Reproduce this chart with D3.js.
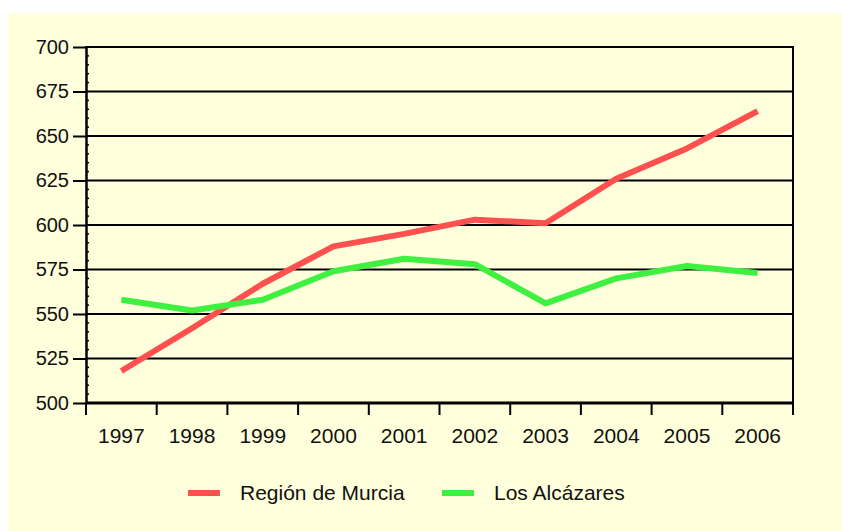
<!DOCTYPE html>
<html><head><meta charset="utf-8">
<script src="https://cdn.jsdelivr.net/npm/d3@7"></script>
<style>body{margin:0;background:#fff}svg{display:block}text{font-family:"Liberation Sans",Arial,sans-serif;fill:#111}</style>
</head><body>
<script>
const years = ["1997","1998","1999","2000","2001","2002","2003","2004","2005","2006"];
const murcia = [518, 542, 567, 588, 595, 603, 601, 626, 643, 664];
const alcazares = [558, 552, 558, 574, 581, 578, 556, 570, 577, 573];
const yTicks = [500, 525, 550, 575, 600, 625, 650, 675, 700];
const seriesNames = ["Región de Murcia", "Los Alcázares"];
const seriesColors = ["#FF5050", "#40F040"];

(function () {
const W = 842, H = 531;
const svg = d3.select("body").append("svg").attr("width", W).attr("height", H);
svg.append("rect").attr("x", 8).attr("y", 13).attr("width", W - 8).attr("height", H - 13).attr("fill", "#FFFFDC");

const pL = 86, pR = 793, pT = 47, pB = 403;
const x = d3.scaleBand().domain(years).range([pL, pR]).padding(0);
const y = d3.scaleLinear().domain([500, 700]).range([pB, pT]);

// gridlines
svg.append("g").selectAll("line").data(yTicks.slice(1)).join("line")
  .attr("x1", pL).attr("x2", pR).attr("y1", d => y(d)).attr("y2", d => y(d))
  .attr("stroke", "#000").attr("stroke-width", 2);

// minor ticks on left axis
const minor = d3.range(505, 700, 5).filter(v => v % 25 !== 0);
svg.append("g").selectAll("line").data(minor).join("line")
  .attr("x1", pL).attr("x2", pL + 3).attr("y1", d => y(d)).attr("y2", d => y(d))
  .attr("stroke", "#000").attr("stroke-width", 1.5);

// right border
svg.append("line").attr("x1", pR).attr("x2", pR).attr("y1", pT - 1).attr("y2", pB + 12)
  .attr("stroke", "#000").attr("stroke-width", 2);

// y axis
const yAxis = svg.append("g").attr("transform", `translate(${pL},0)`)
  .call(d3.axisLeft(y).tickValues(yTicks).tickSize(13).tickPadding(4));
yAxis.select(".domain").attr("stroke", "#000").attr("stroke-width", 2.5).attr("d", `M0.5,${pT - 1}V${pB + 1}`);
yAxis.selectAll(".tick line").attr("stroke", "#000").attr("stroke-width", 2);
yAxis.selectAll("text").attr("font-size", 20).attr("fill", "#111").style("font-family", "Liberation Sans, Arial, sans-serif");

// x axis
const xAxis = svg.append("g").attr("transform", `translate(0,${pB})`)
  .call(d3.axisBottom(x).tickSize(0).tickPadding(25));
xAxis.select(".domain").remove();
xAxis.selectAll("text").attr("font-size", 21).attr("fill", "#111").style("font-family", "Liberation Sans, Arial, sans-serif");
svg.append("line").attr("x1", pL).attr("x2", pR + 1).attr("y1", pB).attr("y2", pB)
  .attr("stroke", "#000").attr("stroke-width", 3);
const bounds = years.map(d => x(d)).concat([pR]);
svg.append("g").selectAll("line").data(bounds).join("line")
  .attr("x1", d => d).attr("x2", d => d).attr("y1", pB).attr("y2", pB + 12)
  .attr("stroke", "#000").attr("stroke-width", 2);

// lines
const cx = d => x(d) + x.bandwidth() / 2;
const line = d3.line().x((d, i) => cx(years[i])).y(d => y(d));
[murcia, alcazares].forEach((s, i) => {
  svg.append("path").datum(s).attr("d", line).attr("fill", "none")
    .attr("stroke", seriesColors[i]).attr("stroke-width", 6).attr("stroke-linejoin", "round");
});

// legend
const legendX = [188, 442];
seriesNames.forEach((n, i) => {
  svg.append("line").attr("x1", legendX[i]).attr("x2", legendX[i] + 32).attr("y1", 493).attr("y2", 493)
    .attr("stroke", seriesColors[i]).attr("stroke-width", 6);
  svg.append("text").attr("x", legendX[i] + 52).attr("y", 500).attr("font-size", 21).text(n);
});
})();
</script>
</body></html>
